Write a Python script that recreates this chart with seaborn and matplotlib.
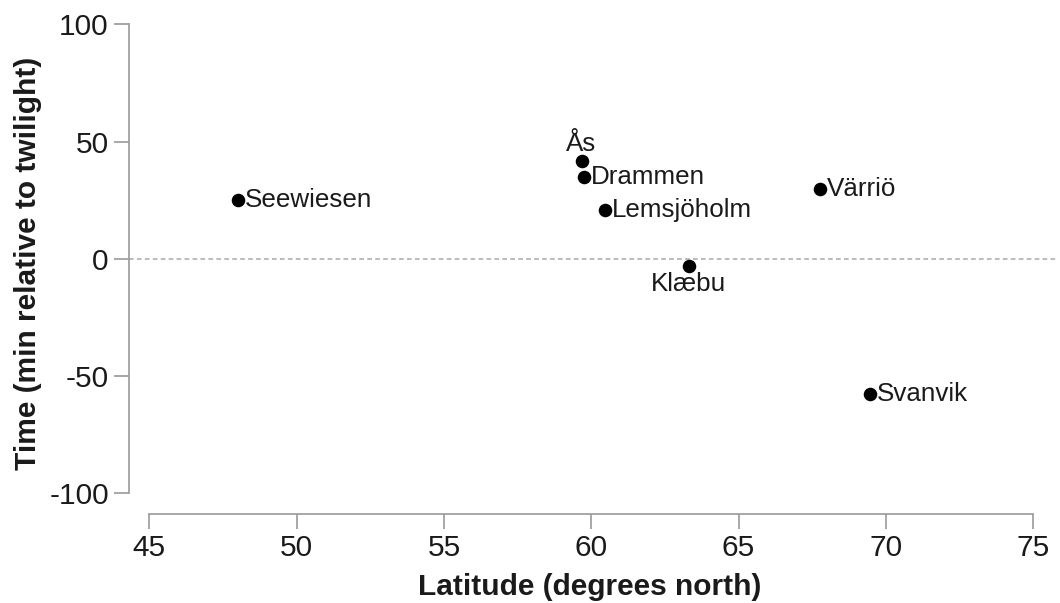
import matplotlib
matplotlib.use("Agg")
import matplotlib.pyplot as plt
import seaborn as sns
import pandas as pd

# Site data: latitude (degrees north) and timing relative to twilight (min)
sites = ["Seewiesen", "Ås", "Drammen", "Lemsjöholm", "Klæbu", "Värriö", "Svanvik"]
latitude = [48.0, 59.67, 59.75, 60.47, 63.30, 67.76, 69.46]
time_rel = [25.1, 41.8, 34.8, 20.8, -2.9, 29.8, -57.7]

x_ticks = [45, 50, 55, 60, 65, 70, 75]
y_ticks = [-100, -50, 0, 50, 100]

df = pd.DataFrame({"site": sites, "lat": latitude, "time": time_rel})

sns.set_style("ticks")
plt.rcParams["font.family"] = ["Liberation Sans", "DejaVu Sans"]
plt.rcParams["axes.unicode_minus"] = False

W, H = 1060, 603
fig = plt.figure(figsize=(W / 100, H / 100), dpi=100)
ax = fig.add_axes([129 / W, 1 - 513.5 / H, (1058 - 129) / W, (513.5 - 24.3) / H])

ax.axhline(0, color="#a8a8a8", linestyle=(0, (3, 2.2)), linewidth=1.1, zorder=1)

sns.scatterplot(data=df, x="lat", y="time", ax=ax, color="black", s=95,
                edgecolor="black", linewidth=0, zorder=3, legend=False)

# Label placement per site (offset in points, alignment)
placement = {
    "Ås": ((-0.5, 3.5), "center", "bottom"),
    "Klæbu": ((0, -4.5), "center", "top"),
}
text_color = "#1a1a1a"
for name, x, y in zip(sites, latitude, time_rel):
    off, ha, va = placement.get(name, ((5.0, 0), "left", "center"))
    ax.annotate(name, (x, y), xytext=off, textcoords="offset points",
                ha=ha, va=va, fontsize=18.7, color=text_color)

ax.set_xlim(44.31, 75.84)
ax.set_ylim(-108.6, 100)
ax.set_xticks(x_ticks)
ax.set_yticks(y_ticks)
ax.spines["left"].set_bounds(-100, 100)
ax.spines["bottom"].set_bounds(45, 75)
for side in ("top", "right"):
    ax.spines[side].set_visible(False)
for side in ("left", "bottom"):
    ax.spines[side].set_color("#9a9a9a")
    ax.spines[side].set_linewidth(1.2)

ax.tick_params(axis="both", direction="out", length=10.5, width=1.2,
               color="#9a9a9a", labelsize=21.5, labelcolor=text_color, pad=4)

ax.set_xlabel("Latitude (degrees north)", fontsize=21.5, fontweight="bold",
              color=text_color, labelpad=8)
ax.set_ylabel("Time (min relative to twilight)", fontsize=21.5, fontweight="bold",
              color=text_color, labelpad=5.5)
ax.xaxis.label.set_x(0.496)
ax.yaxis.label.set_y(0.512)

fig.savefig("out.png", dpi=100, facecolor="white")
